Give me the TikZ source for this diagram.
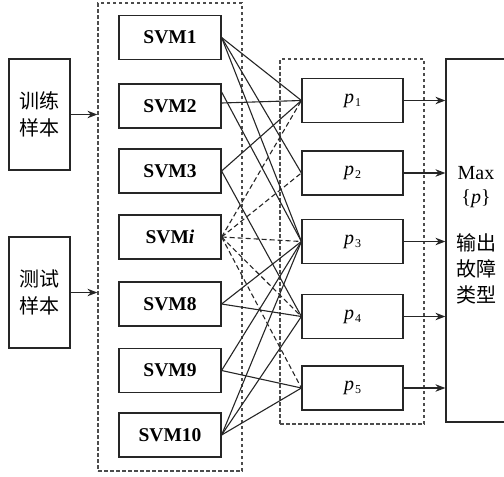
\documentclass[tikz,border=0pt]{standalone}
\usepackage{fontspec}
\setmainfont{Liberation Serif}
\newfontfamily\cjk{Noto Sans CJK SC}
\usetikzlibrary{arrows.meta}
\newcommand{\pp}[1]{\textit{p}\kern1pt\raisebox{-3pt}{\fontsize{12}{12}\selectfont #1}}
\begin{document}
\begin{tikzpicture}[x=1pt,y=-1pt,
  box/.style={draw=black!85,line width=1.2pt,inner sep=0pt},
  svmbox/.style={box,minimum width=102pt,minimum height=44pt,font=\fontsize{19.5}{19.5}\selectfont\bfseries},
  pbox/.style={box,minimum width=101pt,minimum height=44pt,font=\fontsize{20}{20}\selectfont},
  sidebox/.style={box,minimum width=61pt,minimum height=111pt,font=\cjk\fontsize{20}{27}\selectfont,align=center},
  dbox/.style={draw=black!70,line width=1.2pt,dash pattern=on 3.5pt off 2.5pt},
  link/.style={draw=black!85,line width=1.1pt},
  dlink/.style={draw=black!85,line width=1.1pt,dash pattern=on 5pt off 3pt},
  arr/.style={draw=black!85,line width=1.2pt,-{Stealth[length=10pt,width=7.5pt]}},
  rt/.style={font=\fontsize{20}{20}\selectfont},
  ct/.style={font=\cjk\fontsize{20}{20}\selectfont}
]
\useasboundingbox (0,0) rectangle (504,477);
% side inputs
\node[sidebox] (train) at (39.5,114.5) {训练\\样本};
\node[sidebox] (test) at (39.5,292.5) {测试\\样本};
% dashed groups
\node[dbox,minimum width=144pt,minimum height=468pt,inner sep=0pt] (g1) at (170,237) {};
\node[dbox,minimum width=144pt,minimum height=365pt,inner sep=0pt] (g2) at (352,241.5) {};
% SVM boxes
\node[svmbox] (s1) at (170,37.5) {SVM1};
\node[svmbox] (s2) at (170,106) {SVM2};
\node[svmbox] (s3) at (170,171) {SVM3};
\node[svmbox] (si) at (170,237) {SVM\textit{i}};
\node[svmbox] (s8) at (170,304) {SVM8};
\node[svmbox] (s9) at (170,370.5) {SVM9};
\node[svmbox] (s10) at (170,435) {SVM10};
% p boxes
\node[pbox] (p1) at (352.5,100.5) {\pp{1}};
\node[pbox] (p2) at (352.5,173) {\pp{2}};
\node[pbox] (p3) at (352.5,241.5) {\pp{3}};
\node[pbox] (p4) at (352.5,316.5) {\pp{4}};
\node[pbox] (p5) at (352.5,388) {\pp{5}};
% output box
\node[box,minimum width=80pt,minimum height=363pt] (out) at (486,240.5) {};
\node[rt] (mx) at (476,173) {Max};
\node[rt] (mp) at (476,199) {\{\textit{p}\}};
\node[ct] (o1) at (476,243) {输出};
\node[ct] (o2) at (476,269) {故障};
\node[ct] (o3) at (476,295) {类型};
% input arrows
\draw[arr] (train.east) -- (train.east -| g1.west);
\draw[arr] (test.east) -- (test.east -| g1.west);
% connections
\draw[link] (s1.east) -- (p1.west);
\draw[link] (s1.east) -- (p2.west);
\draw[link] (s1.east) -- (p3.west);
\draw[link] ([yshift=3pt]s2.east) -- (p1.west);
\draw[link] ([yshift=14pt]s2.east) -- (p3.west);
\draw[link] (s3.east) -- (p1.west);
\draw[link] (s3.east) -- (p4.west);
\draw[dlink] (si.east) -- (p1.west);
\draw[dlink] (si.east) -- (p2.west);
\draw[dlink] (si.east) -- (p3.west);
\draw[dlink] (si.east) -- (p4.west);
\draw[dlink] (si.east) -- (p5.west);
\draw[link] (s8.east) -- (p3.west);
\draw[link] (s8.east) -- (p4.west);
\draw[link] (s9.east) -- (p3.west);
\draw[link] (s9.east) -- (p5.west);
\draw[link] (s10.east) -- (p3.west);
\draw[link] (s10.east) -- (p4.west);
\draw[link] (s10.east) -- (p5.west);
% output arrows
\foreach \p in {p1,p2,p3,p4,p5} \draw[arr] (\p.east) -- (\p.east -| out.west);
\end{tikzpicture}
\end{document}
